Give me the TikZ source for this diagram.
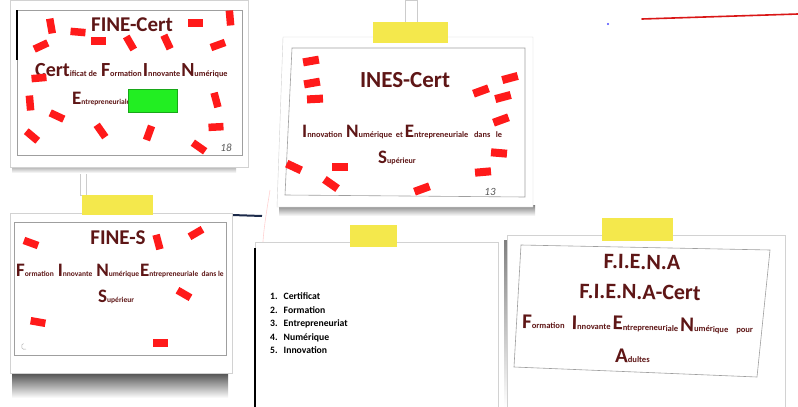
\documentclass[tikz,border=0pt]{standalone}
\usepackage{fontspec}
\setmainfont{Carlito}
\definecolor{ink}{HTML}{5E1616}
\definecolor{redr}{HTML}{FF1A1A}
\definecolor{tapey}{HTML}{F4E84C}
\definecolor{grn}{HTML}{22EE22}
\definecolor{shade}{HTML}{4A4A4A}
\definecolor{navyblob}{HTML}{1C2A4A}
\newcommand\FS[2]{{\fontsize{#1}{#1}\selectfont #2}}
\newcommand\BL[1]{\FS{19}{#1}}
\newcommand\SL[1]{\FS{7.5}{#1}}
\begin{document}
\begin{tikzpicture}[x=1pt,y=-1pt,
  border/.style={draw=gray!75,line width=0.6pt},
  sheet/.style={fill=white,draw=gray!35,line width=0.4pt},
  redmark/.style={fill=redr,draw=none,minimum width=15pt,minimum height=7.5pt,inner sep=0pt},
  tapebox/.style={fill=tapey,draw=none},
  ttl/.style={text=ink,font=\bfseries\fontsize{21}{21}\selectfont,inner sep=0pt},
  acro/.style={text=ink,font=\bfseries,inner sep=0pt,anchor=base west},
  listtext/.style={text=black,font=\bfseries\fontsize{9.7}{13.5}\selectfont,inner sep=0pt,anchor=north west},
  hand/.style={text=gray!70!black,font=\itshape\fontsize{11}{11}\selectfont,inner sep=0pt}]
\useasboundingbox (0,0) rectangle (798,407);
\fill[white] (0,0) rectangle (798,407);
% ---- wall marks
\draw[redr!85!black,line width=1.6pt,line cap=round] (642,19) -- (798,14);
\fill[blue!70] (608,24) circle (1.2);
\draw[gray!40,line width=0.5pt] (405,0) rectangle (417,22);
\draw[gray!40,line width=0.5pt] (80,165) rectangle (86,195);
\draw[pink!70,line width=0.6pt] (270,190) .. controls (262,240) .. (262,300);
\draw[navyblob,line width=2pt] (232,215) -- (262,216);
% ---- card 1 : FINE-Cert
\fill[shade] (12,163) rectangle (236,173);
\path[sheet] (10,0) rectangle (248,167);
\draw[border] (17,10) rectangle (242,155);
\draw[shade,line width=1.2pt] (17,10) -- (17,60);
\node[ttl] (t1) at (132,25) {FINE-Cert};
\node[acro] (l1a) at (35,76) {\FS{20}{Cert}\FS{8.2}{ificat\ de}\hspace{4pt}\FS{20}{F}\FS{8.2}{ormation}\hspace{1pt}\FS{20}{I}\FS{8.2}{nnovante}\hspace{1pt}\FS{20}{N}\FS{8.2}{umérique}};
\node[acro] (l1b) at (72,104) {\BL{E}\SL{ntrepreneuriale}};
\node[fill=grn,draw=grn!70!black,line width=0.3pt,minimum width=49pt,minimum height=23pt,inner sep=0pt] (g1) at (152.5,101) {};
\foreach \n/\x/\y/\a in {1/51/26/-80,2/78/32/-5,3/98/41/0,4/130/43/-60,5/167/42/-65,6/195/23/0,
  7/230/18/95,8/41/46/25,9/218/45/20,10/39/78/5,11/30/103/95,12/57/116/-25,13/32/136/-40,
  14/101/131/-55,15/149/133/70,16/216/100/-75,17/216/127/3,18/199/147/-35}
  \node[redmark,rotate=\a] (ra\n) at (\x,\y) {};
\node[hand] (h1) at (226,148) {18};
% ---- card 2 : INES-Cert
\fill[shade] (279,205) rectangle (535,216);
\path[sheet] (283,37) -- (533,37) -- (533,207) -- (277,207) -- cycle;
\draw[border] (292,48) -- (525,48) -- (525,197) -- (285,195) -- cycle;
\fill[tapey] (373,22) rectangle (448,43);
\node[ttl,font=\bfseries\fontsize{23}{23}\selectfont] (t2) at (405,80) {INES-Cert};
\node[acro] (l2a) at (302,137) {\BL{I}\FS{8.3}{nnovation}\hspace{4pt}\BL{N}\FS{8.3}{umérique\ \ et}\hspace{2pt}\BL{E}\FS{8.3}{ntrepreneuriale\ \ \ dans\ \ \ le}};
\node[acro] (l2b) at (378,163) {\BL{S}\FS{8}{upérieur}};
\foreach \n/\x/\y/\a in {1/311/61/10,2/312/83/10,3/315/99/3,4/481/91/20,5/510/78/15,6/503/97/15,
  7/501/120/20,8/499/153/-5,9/483/172/5,10/294/167/-25,11/340/167/0,12/331/184/-35,13/422/189/20}
  \node[redmark,minimum width=16pt,minimum height=8pt,rotate=\a] (rb\n) at (\x,\y) {};
\node[hand] (h2) at (490,192) {13};
% ---- card 3 : FINE-S
\shade[top color=shade,bottom color=white] (12,372) rectangle (228,398);
\path[sheet] (10,213) rectangle (232,373);
\draw[border] (14,222) rectangle (226,355);
\fill[tapey] (82,195) rectangle (153,215);
\node[ttl] (t3) at (118,238) {FINE-S};
\node[acro] (l3a) at (16,276) {\BL{F}\SL{ormation}\hspace{4pt}\BL{I}\SL{nnovante}\hspace{4pt}\BL{N}\SL{umérique}\hspace{1pt}\BL{E}\SL{ntrepreneuriale\ \ dans\ le}};
\node[acro] (l3b) at (98,302) {\BL{S}\SL{upérieur}};
\foreach \n/\x/\y/\a in {1/31/243/-20,2/158/242/-75,3/196/233/30,4/184/294/-30,5/38/322/-10,6/160/343/0}
  \node[redmark,rotate=\a] (rc\n) at (\x,\y) {};
\draw[gray!60,line width=0.5pt] (26,349) arc (60:250:3);
% ---- card 4 : list
\path[sheet] (255,242) rectangle (498,410);
\draw[shade,line width=1.4pt] (255,248) -- (255,407);
\fill[tapey] (350,225) rectangle (397,247);
\node[listtext] (list) at (270,290) {%
  \begin{tabular}{@{}r@{\hspace{6pt}}l@{}}
  1. & Certificat\\ 2. & Formation\\ 3. & Entrepreneuriat\\ 4. & Numérique\\ 5. & Innovation
  \end{tabular}};
% ---- card 5 : F.I.E.N.A
\fill[shade] (504,240) rectangle (512,407);
\path[sheet] (507,235) rectangle (785,410);
\draw[border] (521,245) -- (770,250) -- (757,377) -- (514,367) -- cycle;
\fill[tapey] (602,218) rectangle (673,241);
\node[ttl,font=\bfseries\fontsize{22}{22}\selectfont,rotate=-1] (t5a) at (642,262) {F.I.E.N.A};
\node[ttl,font=\bfseries\fontsize{22}{22}\selectfont,rotate=-1] (t5b) at (640,292) {F.I.E.N.A-Cert};
\node[acro,rotate=-1.2] (l5a) at (522,328) {\FS{21}{F}\FS{8.5}{ormation}\hspace{7pt}\FS{21}{I}\FS{8.5}{nnovante}\hspace{2pt}\FS{21}{E}\FS{8.5}{ntrepreneuriale}\hspace{2pt}\FS{21}{N}\FS{8.5}{umérique}\hspace{8pt}\FS{8.5}{pour}};
\node[acro,rotate=-1] (l5b) at (615,362) {\FS{21}{A}\FS{8.5}{dultes}};
\end{tikzpicture}
\end{document}
